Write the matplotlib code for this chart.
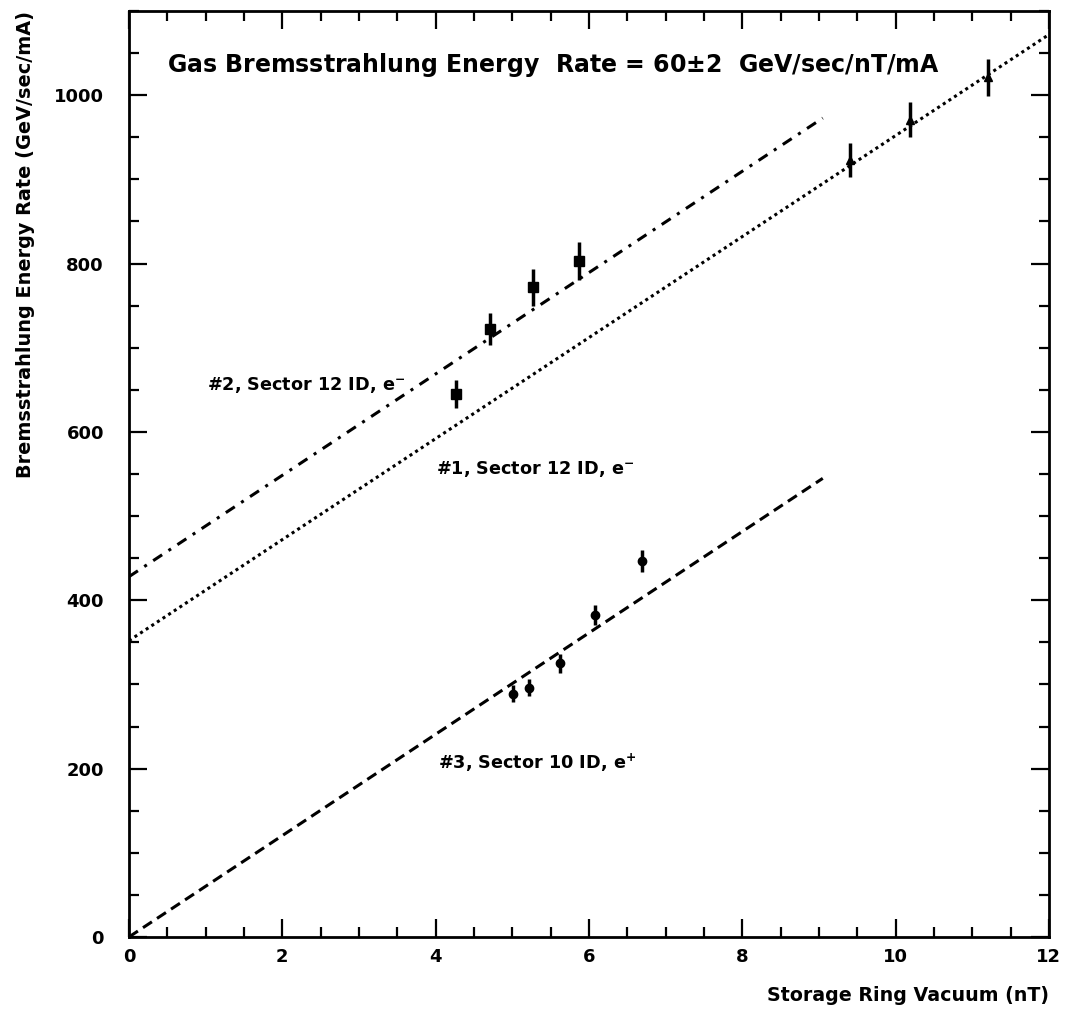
import numpy as np
import matplotlib
matplotlib.use('Agg')
import matplotlib.pyplot as plt
from matplotlib.ticker import MultipleLocator

# #1, Sector 12 ID, e- (triangles)
x1 = [9.41, 10.19, 11.21]
y1 = [923, 971, 1021]
e1 = [20, 21, 22]

# #2, Sector 12 ID, e- (squares)
x2 = [4.27, 4.71, 5.27, 5.87]
y2 = [645, 722, 772, 803]
e2 = [17, 19, 22, 22]

# #3, Sector 10 ID, e+ (circles)
x3 = [5.01, 5.22, 5.62, 6.08, 6.69]
y3 = [289, 296, 325, 382, 447]
e3 = [10, 10, 11, 12, 13]

# fitted lines: intercept, slope, x-range
fit1 = (352, 60.0, 0, 12)
fit2 = (428, 60.2, 0, 9.05)
fit3 = (0, 60.2, 0, 9.05)

plt.rcParams['font.family'] = 'DejaVu Sans'
plt.rcParams['font.weight'] = 'bold'
plt.rcParams['axes.labelweight'] = 'bold'
plt.rcParams['mathtext.default'] = 'bf'
fig = plt.figure(figsize=(10.65, 10.09), dpi=100)
ax = fig.add_axes([0.1211, 0.0714, 0.8638, 0.9177])

def fit_line(f):
    xs = np.array([f[2], f[3]])
    return xs, f[0] + f[1] * xs

xs, ys = fit_line(fit1)
ax.plot(xs, ys, color='black', lw=2.2, linestyle=(0, (1, 1.2)))
xs, ys = fit_line(fit2)
ax.plot(xs, ys, color='black', lw=2.2, linestyle=(0, (3.5, 2.5, 1, 2.5)))
xs, ys = fit_line(fit3)
ax.plot(xs, ys, color='black', lw=2.2, linestyle=(0, (3.5, 2)))

ax.errorbar(x1, y1, yerr=e1, fmt='^', color='black', ms=6, elinewidth=2.5, capsize=0)
ax.errorbar(x2, y2, yerr=e2, fmt='s', color='black', ms=7, elinewidth=2.5, capsize=0)
ax.errorbar(x3, y3, yerr=e3, fmt='o', color='black', ms=6, elinewidth=2.5, capsize=0)

ax.text(0.49, 1036, 'Gas Bremsstrahlung Energy  Rate = 60$\\pm$2  GeV/sec/nT/mA',
        fontsize=17, va='center', ha='left')
ax.text(1.02, 656, '#2, Sector 12 ID, e$^{-}$', fontsize=12.7, va='center', ha='left')
ax.text(4.0, 556, '#1, Sector 12 ID, e$^{-}$', fontsize=12.7, va='center', ha='left')
ax.text(4.03, 207, '#3, Sector 10 ID, e$^{+}$', fontsize=12.7, va='center', ha='left')

ax.set_xlim(0, 12)
ax.set_ylim(0, 1100)
ax.xaxis.set_major_locator(MultipleLocator(2))
ax.xaxis.set_minor_locator(MultipleLocator(0.5))
ax.yaxis.set_major_locator(MultipleLocator(200))
ax.yaxis.set_minor_locator(MultipleLocator(50))
ax.tick_params(which='both', direction='in', top=True, right=True, width=1.6, labelsize=13)
ax.tick_params(which='major', length=13)
ax.tick_params(which='minor', length=7)
ax.tick_params(axis='x', which='major', pad=8)
ax.tick_params(axis='y', which='major', pad=18)
for s in ax.spines.values():
    s.set_linewidth(2)

ax.set_xlabel('Storage Ring Vacuum (nT)', fontsize=13.7, loc='right')
ax.set_ylabel('Bremsstrahlung Energy Rate (GeV/sec/mA)', fontsize=13.9, loc='top')
ax.xaxis.set_label_coords(1.0, -0.053)
ax.yaxis.set_label_coords(-0.102, 1.0)

fig.savefig('out.png', dpi=100, facecolor='white')
